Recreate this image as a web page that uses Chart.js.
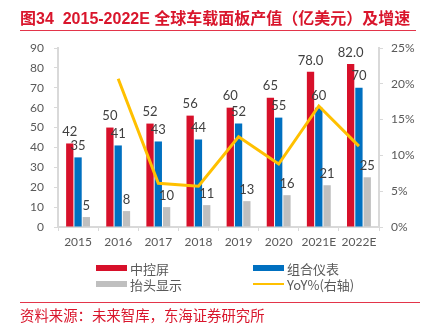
<!DOCTYPE html>
<html>
<head>
<meta charset="utf-8">
<script src="https://cdn.jsdelivr.net/npm/chart.js@4.4.1/dist/chart.umd.min.js"></script>
<style>
  html, body { margin: 0; padding: 0; background: #fff; }
  #wrap { position: relative; width: 435px; height: 332px; overflow: hidden;
          font-family: "Liberation Sans", "Noto Sans CJK SC", sans-serif; }
  #chart { position: absolute; left: 0; top: 0; }
  .title { position: absolute; left: 20px; top: 5px; font-size: 16px; font-weight: bold;
           color: #d9162c; white-space: nowrap; letter-spacing: 0; }
  .rule { position: absolute; left: 20px; width: 396px; height: 1px; background: #e3354a; }
  .leg { position: absolute; font-size: 13px; color: #595959; white-space: nowrap;
         font-family: "Noto Sans CJK SC", sans-serif; }
  .sw { position: absolute; width: 31px; }
  .src { position: absolute; left: 20px; top: 304px; font-size: 14.4px; color: #d9162c;
         font-family: "Noto Sans CJK SC", sans-serif; white-space: nowrap; }
</style>
</head>
<body>
<div id="wrap">
  <canvas id="chart" width="435" height="332"></canvas>
  <div class="title">图34&nbsp; 2015-2022E 全球车载面板产值（亿美元）及增速</div>
  <div class="rule" style="top:30px"></div>

  <div class="sw" style="left:96px; top:265px; height:6px; background:#d7102a"></div>
  <div class="leg" style="left:130px; top:259px">中控屏</div>
  <div class="sw" style="left:253px; top:265px; height:6px; background:#0070c0"></div>
  <div class="leg" style="left:287px; top:259px">组合仪表</div>
  <div class="sw" style="left:96px; top:281px; height:6px; background:#bfbfbf"></div>
  <div class="leg" style="left:130px; top:275px">抬头显示</div>
  <div class="sw" style="left:253px; top:283px; height:2px; background:#ffc000"></div>
  <div class="leg" style="left:287px; top:275px">YoY%(右轴)</div>

  <div class="rule" style="top:302px; width:400px"></div>
  <div class="src">资料来源：未来智库，东海证券研究所</div>
</div>
<script>
const years = ["2015", "2016", "2017", "2018", "2019", "2020", "2021E", "2022E"];
const centerScreen = [42, 50, 52, 56, 60, 65, 78, 82];
const centerDecimals = [0, 0, 0, 0, 0, 0, 1, 1];
const cluster = [35, 41, 43, 44, 52, 55, 60, 70];
const hud = [5, 8, 10, 11, 13, 16, 21, 25];
const yoy = [null, 20.7, 6.1, 5.7, 12.6, 8.8, 16.9, 11.3];
const leftTicks = [0, 90, 10];
const rightTicks = [0, 25, 5];

const axisColor = "#d9d9d9";
const tickFont = { family: "Lato", size: 12 };

// labels above the bars
const barLabels = {
  id: "barLabels",
  afterDatasetsDraw(chart) {
    const ctx = chart.ctx;
    ctx.save();
    ctx.font = "13px Lato";
    ctx.fillStyle = "#404040";
    ctx.textAlign = "center";
    ctx.textBaseline = "bottom";
    chart.data.datasets.forEach((ds, i) => {
      if (ds.type === "line") return;
      chart.getDatasetMeta(i).data.forEach((bar, j) => {
        const d = ds.decimals ? ds.decimals[j] : 0;
        ctx.fillText(ds.data[j].toFixed(d), bar.x, bar.y - 5);
      });
    });
    ctx.restore();
  }
};

new Chart(document.getElementById("chart"), {
  type: "bar",
  data: {
    labels: years,
    datasets: [
      {
        label: "YoY%(右轴)",
        type: "line",
        data: yoy,
        yAxisID: "y1",
        borderColor: "#ffc000",
        borderWidth: 3,
        pointRadius: 0,
        tension: 0,
        borderJoinStyle: "miter",
        order: 0,
      },
      { label: "中控屏", data: centerScreen, decimals: centerDecimals, backgroundColor: "#d7102a", order: 1 },
      { label: "组合仪表", data: cluster, backgroundColor: "#0070c0", order: 1 },
      { label: "抬头显示", data: hud, backgroundColor: "#bfbfbf", order: 1 },
    ],
  },
  options: {
    responsive: false,
    animation: false,
    categoryPercentage: 0.62,
    barPercentage: 0.88,
    layout: { padding: { top: 48, bottom: 80, left: 0, right: 0 } },
    plugins: { legend: { display: false }, tooltip: { enabled: false } },
    scales: {
      x: {
        grid: { display: true, drawOnChartArea: false, color: axisColor, tickLength: 4, offset: true },
        border: { color: axisColor, width: 2 },
        ticks: { color: "#595959", font: tickFont, padding: 4, maxRotation: 0 },
        afterFit: (s) => { s.height = 25; },
      },
      y: {
        position: "left",
        min: leftTicks[0],
        max: leftTicks[1],
        grid: { display: true, drawOnChartArea: false, color: axisColor, tickLength: 4 },
        border: { color: axisColor, width: 2 },
        ticks: { stepSize: leftTicks[2], color: "#595959", font: tickFont, padding: 10 },
        afterFit: (s) => { s.width = 58; },
      },
      y1: {
        position: "right",
        min: rightTicks[0],
        max: rightTicks[1],
        grid: { display: true, drawOnChartArea: false, color: axisColor, tickLength: 4 },
        border: { color: axisColor, width: 2 },
        ticks: { stepSize: rightTicks[2], color: "#595959", font: tickFont, padding: 8,
                 callback: (v) => v + "%" },
        afterFit: (s) => { s.width = 56; },
      },
    },
  },
  plugins: [barLabels],
});
</script>
</body>
</html>
